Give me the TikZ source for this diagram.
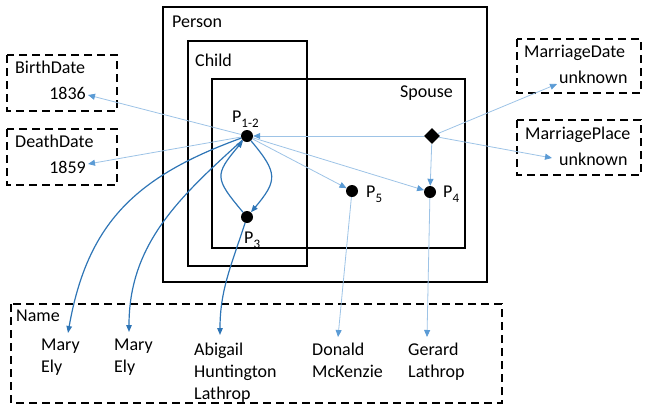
\documentclass[tikz,border=0pt]{standalone}
\usepackage{fontspec}
\setmainfont{Carlito}
\usetikzlibrary{arrows.meta,shapes.geometric}
\definecolor{linkpale}{RGB}{157,195,230}
\definecolor{tippale}{RGB}{91,155,213}
\definecolor{linkdark}{RGB}{46,117,182}
\newcommand{\entlabel}[1]{P\raisebox{-5pt}{\fontsize{13}{13}\selectfont #1}}
\newcommand{\firstline}{\rule{0pt}{13pt}}
\begin{document}
\begin{tikzpicture}[x=1pt,y=1pt,
  every node/.style={inner sep=0pt, font=\fontsize{18}{22}\selectfont},
  setbox/.style={draw=black, line width=2.4pt},
  attrbox/.style={draw=black, line width=2pt, dash pattern=on 8pt off 5pt},
  entity/.style={circle, fill=black, minimum size=12pt},
  marriage/.style={diamond, fill=black, minimum size=16pt},
  namelist/.style={anchor=north west, align=left},
  link/.style={draw=linkpale, line width=0.8pt, -{Triangle[length=7pt,width=6pt,color=tippale]}},
  tie/.style={draw=linkdark, line width=1.2pt, -{Triangle[length=7pt,width=5.5pt]}}]
\useasboundingbox (0,0) rectangle (646,-405);

% nested sets
\draw[setbox] (163,-7) rectangle (487,-282);
\draw[setbox] (188,-41) rectangle (307,-266);
\draw[setbox] (212,-79) rectangle (465,-248);
\node[anchor=base west] (lperson) at (172,-27) {Person};
\node[anchor=base west] (lchild) at (195,-66) {Child};
\node[anchor=base east] (lspouse) at (453,-97) {Spouse};

% attribute boxes
\draw[attrbox] (7,-55) rectangle (117,-111);
\draw[attrbox] (7,-129) rectangle (117,-185);
\draw[attrbox] (517,-39) rectangle (641,-93);
\draw[attrbox] (517,-120) rectangle (641,-175);
\draw[attrbox] (11,-304) rectangle (502,-403);

\node[anchor=base west] (lbirth) at (15,-73) {BirthDate};
\node[anchor=base east] (y1836) at (86,-99) {1836};
\node[anchor=base west] (ldeath) at (15,-147) {DeathDate};
\node[anchor=base east] (y1859) at (86,-173) {1859};
\node[anchor=base west] (lmdate) at (524,-57) {MarriageDate};
\node[anchor=base west] (unkdate) at (559,-83) {unknown};
\node[anchor=base west] (lmplace) at (525,-139) {MarriagePlace};
\node[anchor=base west] (unkplace) at (559,-165) {unknown};
\node[anchor=base west] (lname) at (16,-321) {Name};

\node[namelist] (mary1) at (41,-337) {\firstline Mary\\Ely};
\node[namelist] (mary2) at (114,-337) {\firstline Mary\\Ely};
\node[namelist] (abigail) at (194,-342) {\firstline Abigail\\Huntington\\Lathrop};
\node[namelist] (donald) at (312,-342) {\firstline Donald\\McKenzie};
\node[namelist] (gerard) at (408,-342) {\firstline Gerard\\Lathrop};

% entities
\node[entity] (p12) at (247,-136) {};
\node[entity] (p3) at (247,-217) {};
\node[entity] (p5) at (352,-191) {};
\node[entity] (p4) at (430,-192) {};
\node[marriage] (mar) at (432,-136) {};

\node[anchor=base west] (lp12) at (232,-122) {\entlabel{1-2}};
\node[anchor=base west] (lp3) at (244,-243) {\entlabel{3}};
\node[anchor=base west] (lp5) at (366,-197) {\entlabel{5}};
\node[anchor=base west] (lp4) at (443,-197) {\entlabel{4}};

% arrow ends at the values
\coordinate (a1836) at (88,-95);
\coordinate (a1859) at (88,-164);
\coordinate (aunkdate) at (557,-84);
\coordinate (aunkplace) at (552,-158);
\coordinate (amary1) at (68,-333);
\coordinate (amary2) at (129,-332);
\coordinate (aabigail) at (220,-335);
\coordinate (adonald) at (338,-337);
\coordinate (agerard) at (427,-337);

% attribute links
\draw[link] (p12) -- (a1836);
\draw[link] (p12) -- (a1859);
\draw[link] (mar) -- (p12);
\draw[link] (p12) -- (p5);
\draw[link] (p12) -- (p4);
\draw[link] (mar) -- (p4);
\draw[link] (mar) -- (aunkdate);
\draw[link] (mar) -- (aunkplace);
\draw[link] (p5) -- (adonald);
\draw[link] (p4) -- (agerard);

% parent/child ties and names
\draw[tie] (p12) to[out=-50, in=50, looseness=1.5] (p3);
\draw[tie] (p3) to[out=130, in=-130, looseness=1.6] (p12);
\draw[tie] (p12) to[out=200, in=80, looseness=1.1] (amary1);
\draw[tie] (p12) to[out=222, in=90] (amary2);
\draw[tie] (p3) to[out=252, in=90] (aabigail);
\end{tikzpicture}
\end{document}
